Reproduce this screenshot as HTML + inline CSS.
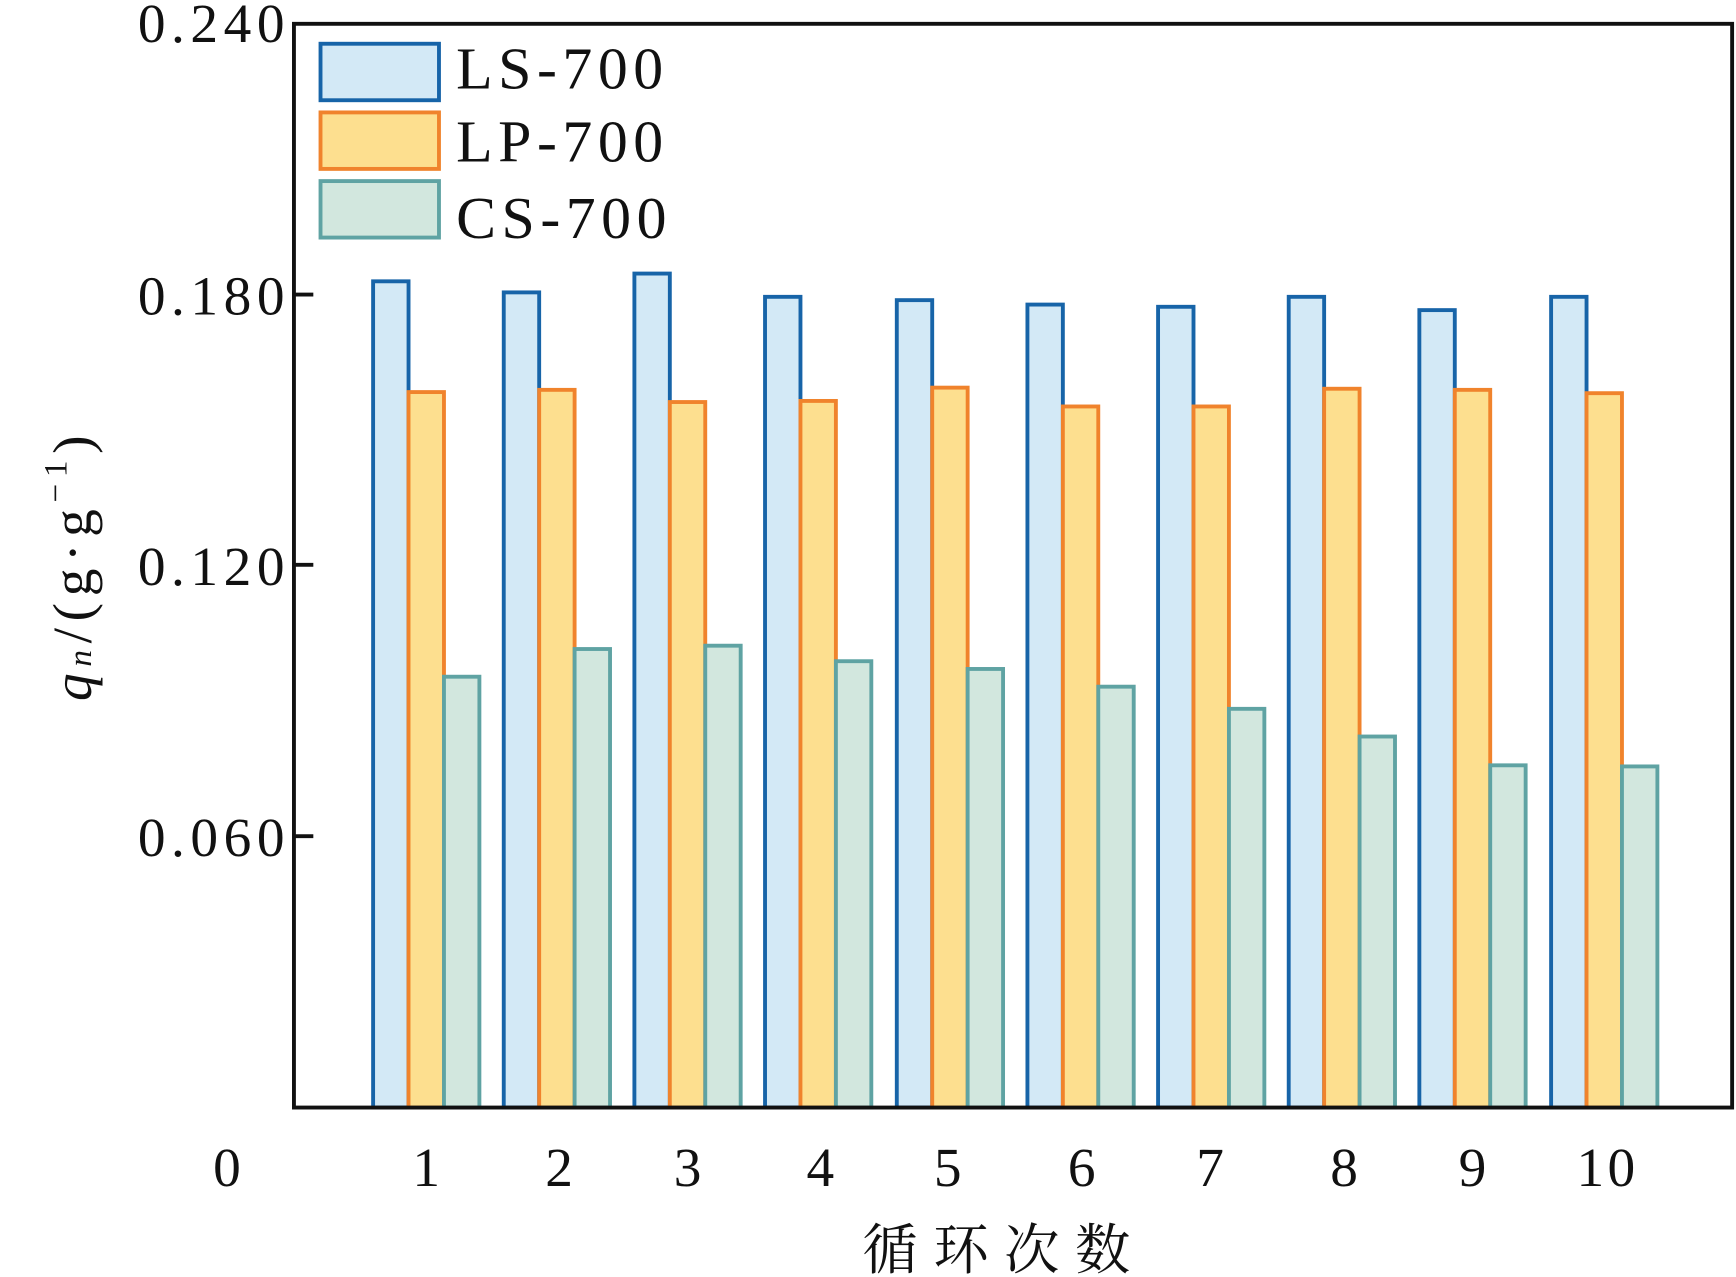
<!DOCTYPE html>
<html><head><meta charset="utf-8"><style>html,body{margin:0;padding:0;background:#fff}svg{display:block}</style></head>
<body>
<svg width="1736" height="1277" viewBox="0 0 1568 1153" preserveAspectRatio="none" xmlns="http://www.w3.org/2000/svg" font-family="Liberation Serif, Noto Serif CJK SC, serif">
<rect width="1568" height="1153" fill="#fff"/>
<g fill="#d3e9f6" stroke="#1764a8" stroke-width="3.5">
<rect x="337" y="254" width="32" height="746"/><rect x="455" y="264" width="32" height="736"/><rect x="573" y="247" width="32" height="753"/><rect x="691" y="268" width="32" height="732"/><rect x="810" y="271" width="32" height="729"/><rect x="928" y="275" width="32" height="725"/><rect x="1046" y="277" width="32" height="723"/><rect x="1164" y="268" width="32" height="732"/><rect x="1282" y="280" width="32" height="720"/><rect x="1401" y="268" width="32" height="732"/>
</g>
<g fill="#fddf8f" stroke="#f0832c" stroke-width="3.5">
<rect x="369" y="354" width="32" height="646"/><rect x="487" y="352" width="32" height="648"/><rect x="605" y="363" width="32" height="637"/><rect x="723" y="362" width="32" height="638"/><rect x="842" y="350" width="32" height="650"/><rect x="960" y="367" width="32" height="633"/><rect x="1078" y="367" width="32" height="633"/><rect x="1196" y="351" width="32" height="649"/><rect x="1314" y="352" width="32" height="648"/><rect x="1433" y="355" width="32" height="645"/>
</g>
<g fill="#d2e7de" stroke="#5fa3a3" stroke-width="3.5">
<rect x="401" y="611" width="32" height="389"/><rect x="519" y="586" width="32" height="414"/><rect x="637" y="583" width="32" height="417"/><rect x="755" y="597" width="32" height="403"/><rect x="874" y="604" width="32" height="396"/><rect x="992" y="620" width="32" height="380"/><rect x="1110" y="640" width="32" height="360"/><rect x="1228" y="665" width="32" height="335"/><rect x="1346" y="691" width="32" height="309"/><rect x="1465" y="692" width="32" height="308"/>
</g>
<rect x="265.5" y="21.5" width="1299" height="978.5" fill="none" stroke="#111" stroke-width="3.5"/>
<g stroke="#111" stroke-width="3.5"><line x1="265" y1="266" x2="283" y2="266"/><line x1="265" y1="510" x2="283" y2="510"/><line x1="265" y1="755" x2="283" y2="755"/></g>
<g font-size="50" fill="#111" text-anchor="end" letter-spacing="5">
<text x="262" y="38">0.240</text>
<text x="262" y="284">0.180</text>
<text x="262" y="528">0.120</text>
<text x="262" y="773">0.060</text>
</g>
<g font-size="50" fill="#111" text-anchor="middle">
<text x="205" y="1071">0</text><text x="385" y="1071">1</text><text x="505" y="1071">2</text><text x="621" y="1071">3</text><text x="741" y="1071">4</text><text x="856" y="1071">5</text><text x="977" y="1071">6</text><text x="1093" y="1071">7</text><text x="1214" y="1071">8</text><text x="1330" y="1071">9</text><text x="1452" y="1071" letter-spacing="3">10</text>
</g>
<text x="907" y="1146" font-size="50" text-anchor="middle" fill="#111" letter-spacing="14">循环次数</text>
<g transform="translate(82 510) rotate(-90)" fill="#111" font-size="50" text-anchor="middle" letter-spacing="6">
<text x="0" y="0"><tspan font-style="italic">q</tspan><tspan font-style="italic" font-size="30">n</tspan>/(g·g<tspan font-size="30" dy="-22">−1</tspan><tspan dy="22">)</tspan></text>
</g>
<rect x="289.5" y="39.5" width="107" height="51" fill="#d3e9f6" stroke="#1764a8" stroke-width="3.5"/>
<rect x="289.5" y="101.5" width="107" height="51" fill="#fddf8f" stroke="#f0832c" stroke-width="3.5"/>
<rect x="289.5" y="163.5" width="107" height="51" fill="#d2e7de" stroke="#5fa3a3" stroke-width="3.5"/>
<g font-size="54" fill="#111" letter-spacing="5">
<text x="412" y="80">LS-700</text><text x="412" y="146">LP-700</text><text x="412" y="215">CS-700</text>
</g>
</svg>
</body></html>
